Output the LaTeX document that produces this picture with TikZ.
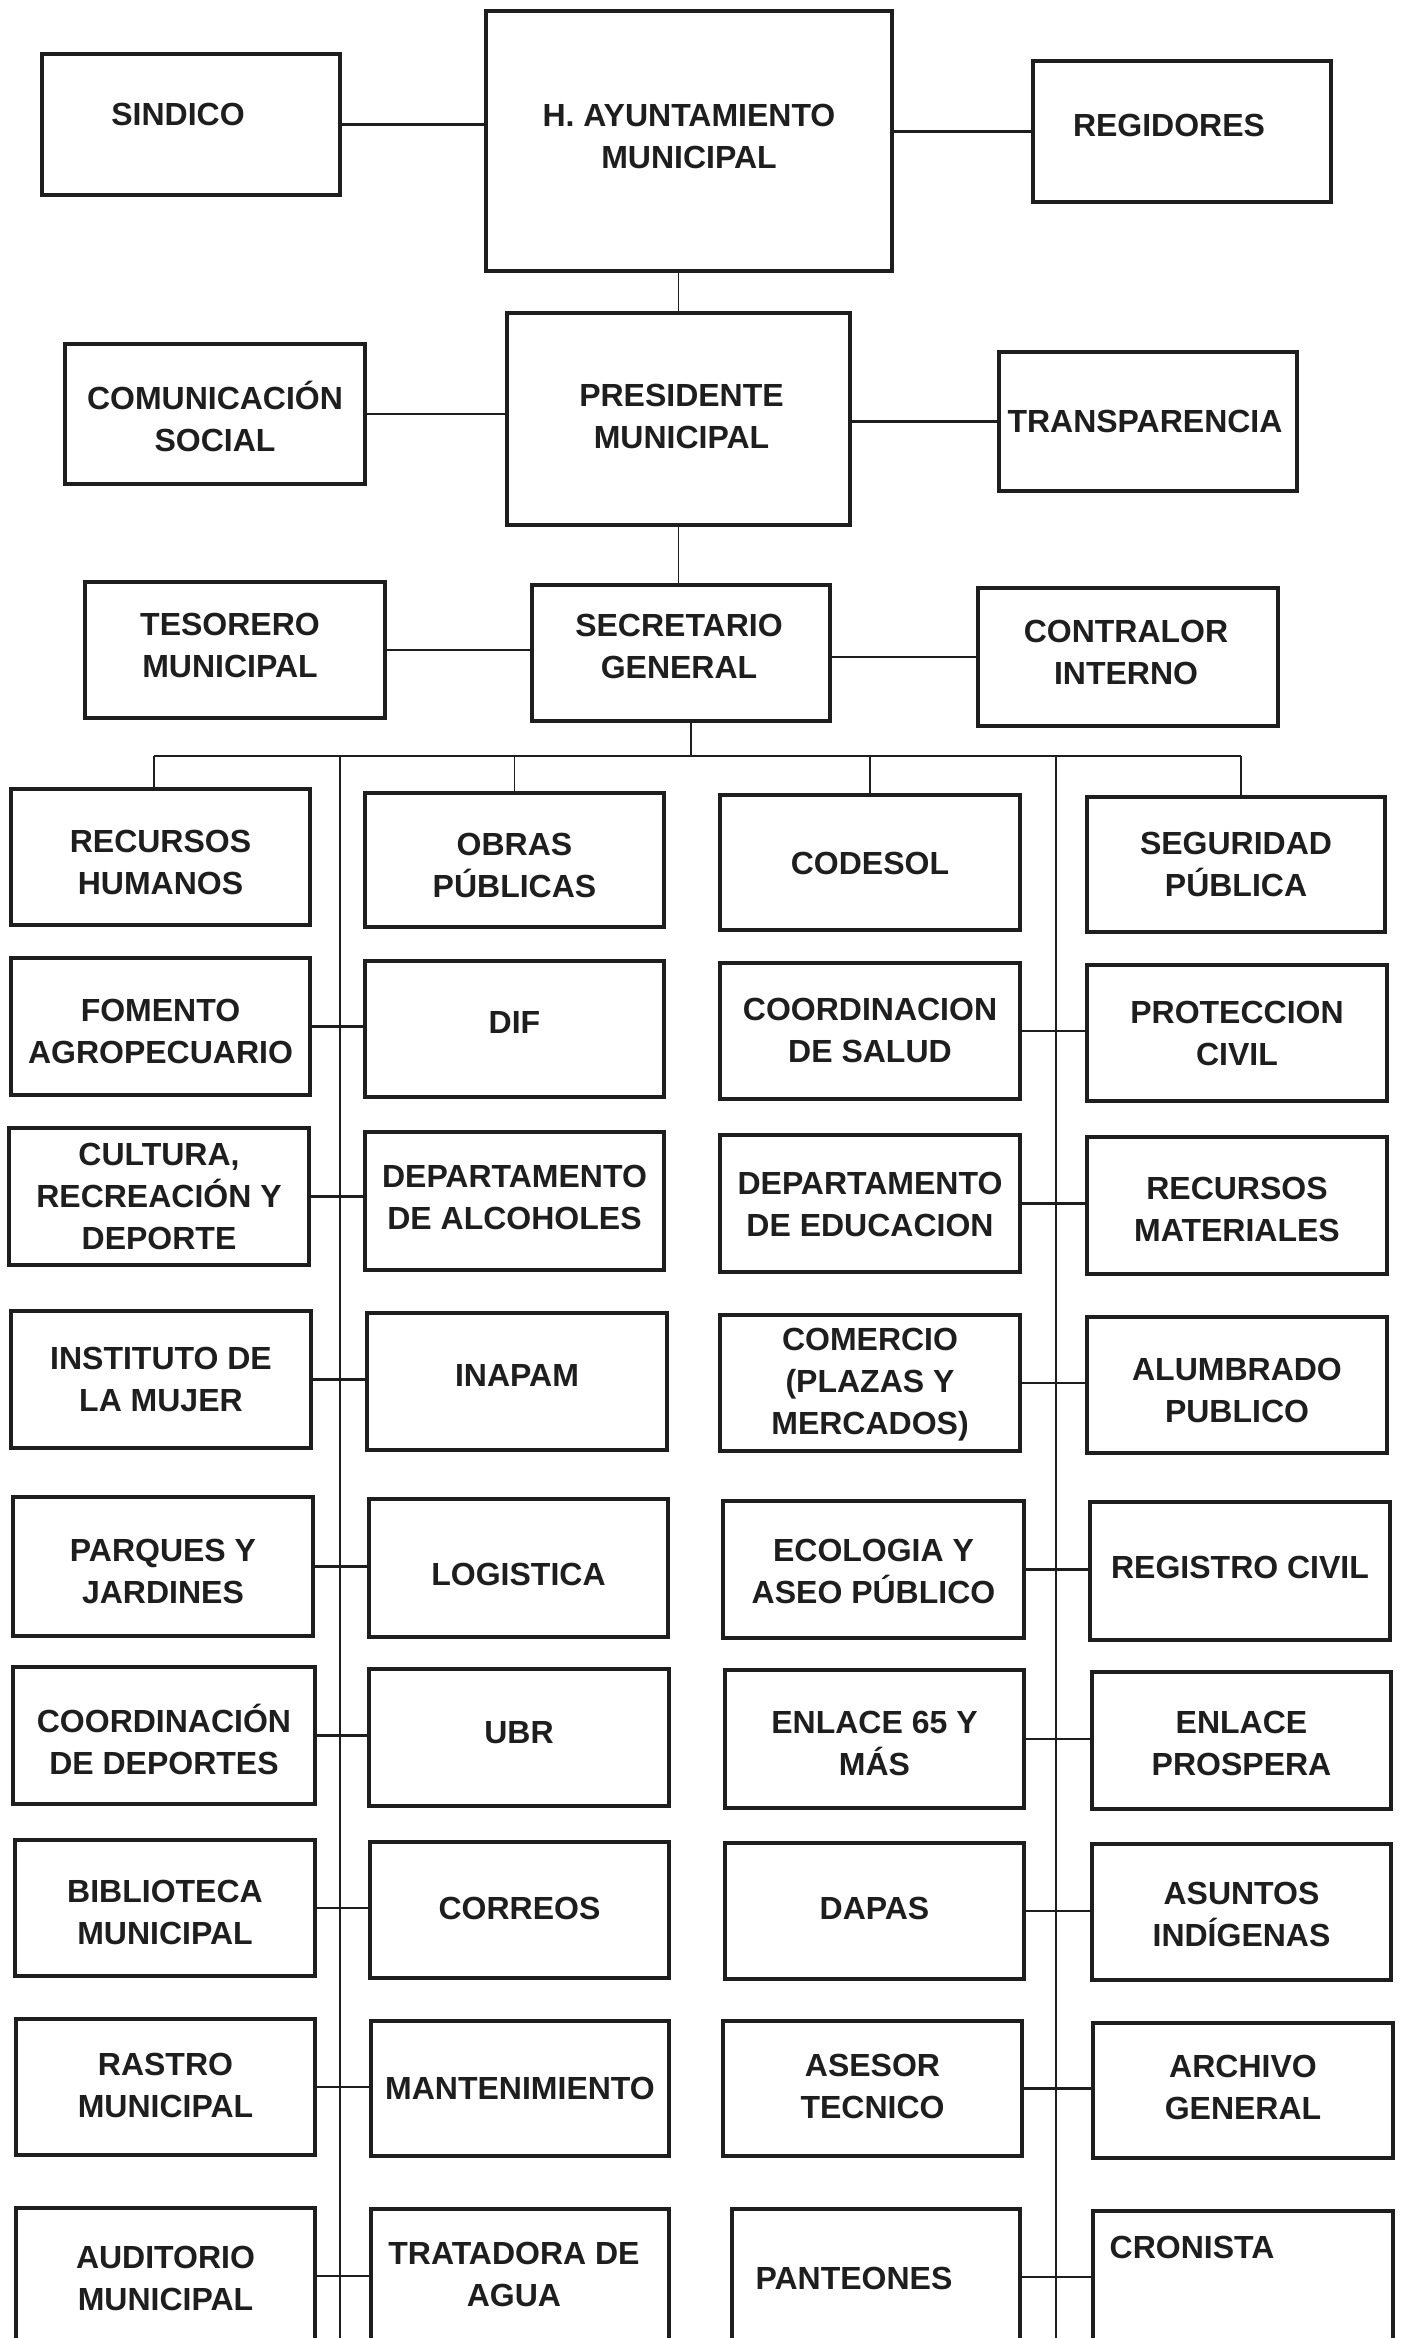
\documentclass[tikz,border=0pt]{standalone}
\usepackage{fontspec}
\setmainfont{Liberation Sans}
\definecolor{ink}{RGB}{30,30,30}
\tikzset{
  bx/.style={draw=ink, line width=1.9pt, rectangle, inner sep=0pt, fill=white},
  lbl/.style={text=ink, font=\bfseries\fontsize{16pt}{21pt}\selectfont, align=center, inner sep=0pt},
  con/.style={draw=ink, line width=1.2pt},
  trunk/.style={draw=ink, line width=0.9pt}
}
% name, x1, y1, x2, y2, dx, dy, text
\newcommand\orgbox[8]{%
  \node[bx, minimum width={(#4-#2)*0.5pt}, minimum height={(#5-#3)*0.5pt}] (#1) at ({(#2+#4)/2},{(#3+#5)/2}) {};
  \node[lbl] (#1-t) at ({(#2+#4)/2+#6},{(#3+#5)/2+#7}) {#8};
}
\begin{document}
\begin{tikzpicture}[x=0.5pt,y=-0.5pt]
\useasboundingbox (0,0) rectangle (1403,2338);
\fill[white] (0,0) rectangle (1403,2338);
\clip (0,0) rectangle (1403,2338);

% coordinates for trunk lines
\coordinate (busL) at (154,756);
\coordinate (busR) at (1241,756);
\coordinate (busC) at (691,756);
\coordinate (vLtop) at (340,756);
\coordinate (vLend) at (340,2345);
\coordinate (vRtop) at (1056,756);
\coordinate (vRend) at (1056,2345);

% trunk lines (drawn first, boxes on top)
\draw[trunk] (busL) -- (busR);
\draw[trunk] (vLtop) -- (vLend);
\draw[trunk] (vRtop) -- (vRend);

% top
\orgbox{ayun}{486}{11}{892}{271}{0}{-5}{H. AYUNTAMIENTO\\MUNICIPAL}
\orgbox{sind}{42}{54}{340}{195}{-13}{-10}{SINDICO}
\orgbox{regi}{1033}{61}{1331}{202}{-13}{-6}{REGIDORES}
\orgbox{pres}{507}{313}{850}{525}{3}{-3}{PRESIDENTE\\MUNICIPAL}
\orgbox{comu}{65}{344}{365}{484}{0}{2}{COMUNICACIÓN\\SOCIAL}
\orgbox{tran}{999}{352}{1297}{491}{-3}{0}{TRANSPARENCIA}
\orgbox{teso}{85}{582}{385}{718}{-5}{-5}{TESORERO\\MUNICIPAL}
\orgbox{secr}{532}{585}{830}{721}{-2}{-7}{SECRETARIO\\GENERAL}
\orgbox{cont}{978}{588}{1278}{726}{-2}{-5}{CONTRALOR\\INTERNO}

% grid
\orgbox{a1}{11}{789}{310}{925}{0}{5}{RECURSOS\\HUMANOS}
\orgbox{b1}{365}{793}{664}{927}{0}{5}{OBRAS\\PÚBLICAS}
\orgbox{c1}{720}{795}{1020}{930}{0}{1}{CODESOL}
\orgbox{d1}{1087}{797}{1385}{932}{0}{0}{SEGURIDAD\\PÚBLICA}

\orgbox{a2}{11}{958}{310}{1095}{0}{5}{FOMENTO\\AGROPECUARIO}
\orgbox{b2}{365}{961}{664}{1097}{0}{-7}{DIF}
\orgbox{c2}{720}{963}{1020}{1099}{0}{-1}{COORDINACION\\DE SALUD}
\orgbox{d2}{1087}{965}{1387}{1101}{0}{0}{PROTECCION\\CIVIL}

\orgbox{a3}{9}{1128}{309}{1265}{0}{0}{CULTURA,\\RECREACIÓN Y\\DEPORTE}
\orgbox{b3}{365}{1132}{664}{1270}{0}{-4}{DEPARTAMENTO\\DE ALCOHOLES}
\orgbox{c3}{720}{1135}{1020}{1272}{0}{1}{DEPARTAMENTO\\DE EDUCACION}
\orgbox{d3}{1087}{1137}{1387}{1274}{0}{4}{RECURSOS\\MATERIALES}

\orgbox{a4}{11}{1311}{311}{1448}{0}{0}{INSTITUTO DE\\LA MUJER}
\orgbox{b4}{367}{1313}{667}{1450}{0}{-6}{INAPAM}
\orgbox{c4}{720}{1315}{1020}{1451}{0}{2}{COMERCIO\\(PLAZAS Y\\MERCADOS)}
\orgbox{d4}{1087}{1317}{1387}{1453}{0}{5}{ALUMBRADO\\PUBLICO}

\orgbox{a5}{13}{1497}{313}{1636}{0}{5}{PARQUES Y\\JARDINES}
\orgbox{b5}{369}{1499}{668}{1637}{0}{6}{LOGISTICA}
\orgbox{c5}{723}{1501}{1024}{1638}{0}{2}{ECOLOGIA Y\\ASEO PÚBLICO}
\orgbox{d5}{1090}{1502}{1390}{1640}{0}{-4}{REGISTRO CIVIL}

\orgbox{a6}{13}{1667}{315}{1804}{0}{4}{COORDINACIÓN\\DE DEPORTES}
\orgbox{b6}{369}{1669}{669}{1806}{0}{-5}{UBR}
\orgbox{c6}{725}{1670}{1024}{1808}{0}{4}{ENLACE 65 Y\\MÁS}
\orgbox{d6}{1092}{1672}{1391}{1809}{0}{3}{ENLACE\\PROSPERA}

\orgbox{a7}{15}{1840}{315}{1976}{0}{4}{BIBLIOTECA\\MUNICIPAL}
\orgbox{b7}{370}{1842}{669}{1978}{0}{-2}{CORREOS}
\orgbox{c7}{725}{1843}{1024}{1979}{0}{-3}{DAPAS}
\orgbox{d7}{1092}{1844}{1391}{1980}{0}{2}{ASUNTOS\\INDÍGENAS}

\orgbox{a8}{16}{2019}{315}{2155}{0}{-2}{RASTRO\\MUNICIPAL}
\orgbox{b8}{371}{2021}{669}{2156}{0}{0}{MANTENIMIENTO}
\orgbox{c8}{723}{2021}{1022}{2156}{0}{-2}{ASESOR\\TECNICO}
\orgbox{d8}{1093}{2023}{1393}{2158}{0}{-3}{ARCHIVO\\GENERAL}

\orgbox{a9}{16}{2208}{315}{2344}{0}{2}{AUDITORIO\\MUNICIPAL}
\orgbox{b9}{371}{2209}{669}{2345}{-6}{-3}{TRATADORA DE\\AGUA}
\orgbox{c9}{732}{2209}{1020}{2345}{-22}{1}{PANTEONES}
\orgbox{d9}{1093}{2211}{1393}{2347}{-51}{-32}{CRONISTA}

% top connectors
\draw[con] (sind.east) -- (sind.east -| ayun.west);
\draw[con] (ayun.east |- regi.west) -- (regi.west);
\draw[trunk] (ayun.south -| pres.north) -- (pres.north);
\draw[con] (comu.east) -- (comu.east -| pres.west);
\draw[con] (pres.east |- tran.west) -- (tran.west);
\draw[trunk] (pres.south) -- (pres.south |- secr.north);
\draw[con] (teso.east) -- (teso.east -| secr.west);
\draw[con] (secr.east |- cont.west) -- (cont.west);
\draw[trunk] (secr.south -| busC) -- (busC);

% branches from bus to first row
\draw[trunk] (busL) -- (busL |- a1.north);
\draw[trunk] (b1.north |- busL) -- (b1.north);
\draw[trunk] (c1.north |- busL) -- (c1.north);
\draw[trunk] (busR) -- (busR |- d1.north);

% row connectors
\foreach \r in {2,...,9}{
  \draw[con] (a\r.east) -- (a\r.east -| b\r.west);
  \draw[con] (c\r.east) -- (c\r.east -| d\r.west);
}
\end{tikzpicture}
\end{document}
